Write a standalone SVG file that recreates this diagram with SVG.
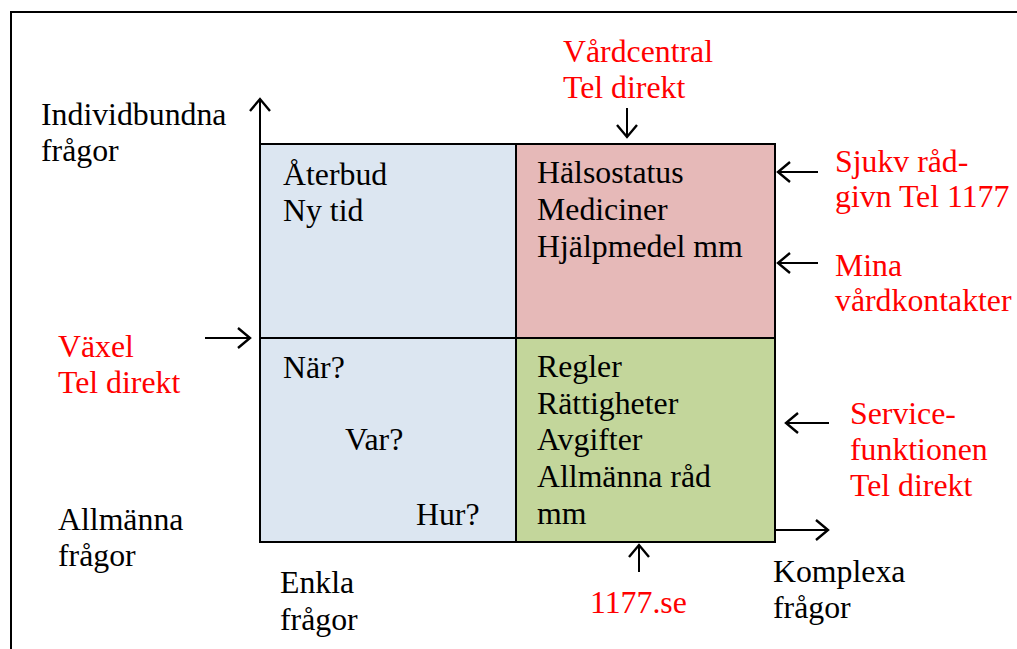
<svg xmlns="http://www.w3.org/2000/svg" width="1017" height="649" viewBox="0 0 1017 649">
<style>
text{font-family:"Liberation Serif","Times New Roman",serif;font-size:31.8px;fill:#000}
.r{fill:#ff0000}
.ln{stroke:#000;stroke-width:2;fill:none}
.q{stroke:#000;stroke-width:2}
</style>
<defs>
<marker id="ah" markerUnits="userSpaceOnUse" markerWidth="20" markerHeight="24" refX="13" refY="11" orient="auto" viewBox="0 0 20 24">
<path d="M1,1 L13,11 L1,21" fill="none" stroke="#000" stroke-width="2.4"/>
</marker>
</defs>
<rect width="1017" height="649" fill="#fff"/>
<g id="frame">
<path class="ln" d="M11,649 V12 H1017" stroke-width="2.5"/>
</g>
<g id="quadrants">
<g id="q-tl"><rect class="q" x="260" y="144" width="256" height="194" fill="#dce6f1"/>
<text x="283" y="185">Återbud</text><text x="283" y="221">Ny tid</text></g>
<g id="q-tr"><rect class="q" x="516" y="144" width="259" height="194" fill="#e6b9b8"/>
<text x="537" y="183">Hälsostatus</text><text x="537" y="220">Mediciner</text><text x="537" y="257">Hjälpmedel mm</text></g>
<g id="q-bl"><rect class="q" x="260" y="338" width="256" height="204" fill="#dce6f1"/>
<text x="283" y="378">När?</text><text x="345" y="450">Var?</text><text x="416" y="525">Hur?</text></g>
<g id="q-br"><rect class="q" x="516" y="338" width="259" height="204" fill="#c3d69b"/>
<text x="537" y="377">Regler</text><text x="537" y="414">Rättigheter</text><text x="537" y="450">Avgifter</text><text x="537" y="487">Allmänna råd</text><text x="537" y="524">mm</text></g>
</g>
<g id="connectors">
<line class="ln" x1="260" y1="144" x2="260" y2="99" marker-end="url(#ah)"/>
<line class="ln" x1="775" y1="530" x2="828" y2="530" marker-end="url(#ah)"/>
<line class="ln" x1="627" y1="108" x2="627" y2="137" marker-end="url(#ah)"/>
<line class="ln" x1="818" y1="172" x2="778" y2="172" marker-end="url(#ah)"/>
<line class="ln" x1="818" y1="263" x2="778" y2="263" marker-end="url(#ah)"/>
<line class="ln" x1="829" y1="423" x2="786" y2="423" marker-end="url(#ah)"/>
<line class="ln" x1="205" y1="338" x2="250" y2="338" marker-end="url(#ah)"/>
<line class="ln" x1="639" y1="572" x2="639" y2="545" marker-end="url(#ah)"/>
</g>
<g id="labels">
<g id="l-indiv"><text x="41" y="125">Individbundna</text><text x="41" y="161">frågor</text></g>
<g id="l-allm"><text x="58" y="530">Allmänna</text><text x="58" y="566">frågor</text></g>
<g id="l-enkla"><text x="280" y="593">Enkla</text><text x="280" y="630">frågor</text></g>
<g id="l-komplexa"><text x="773" y="582">Komplexa</text><text x="773" y="618">frågor</text></g>
<g id="l-vardcentral"><text class="r" x="563" y="62">Vårdcentral</text><text class="r" x="563" y="98">Tel direkt</text></g>
<g id="l-sjukv"><text class="r" x="835" y="172">Sjukv råd-</text><text class="r" x="835" y="207">givn Tel 1177</text></g>
<g id="l-mina"><text class="r" x="835" y="276">Mina</text><text class="r" x="835" y="311">vårdkontakter</text></g>
<g id="l-vaxel"><text class="r" x="58" y="357">Växel</text><text class="r" x="58" y="393">Tel direkt</text></g>
<g id="l-service"><text class="r" x="850" y="424">Service-</text><text class="r" x="850" y="460">funktionen</text><text class="r" x="850" y="496">Tel direkt</text></g>
<g id="l-1177"><text class="r" x="590" y="613">1177.se</text></g>
</g>
</svg>
